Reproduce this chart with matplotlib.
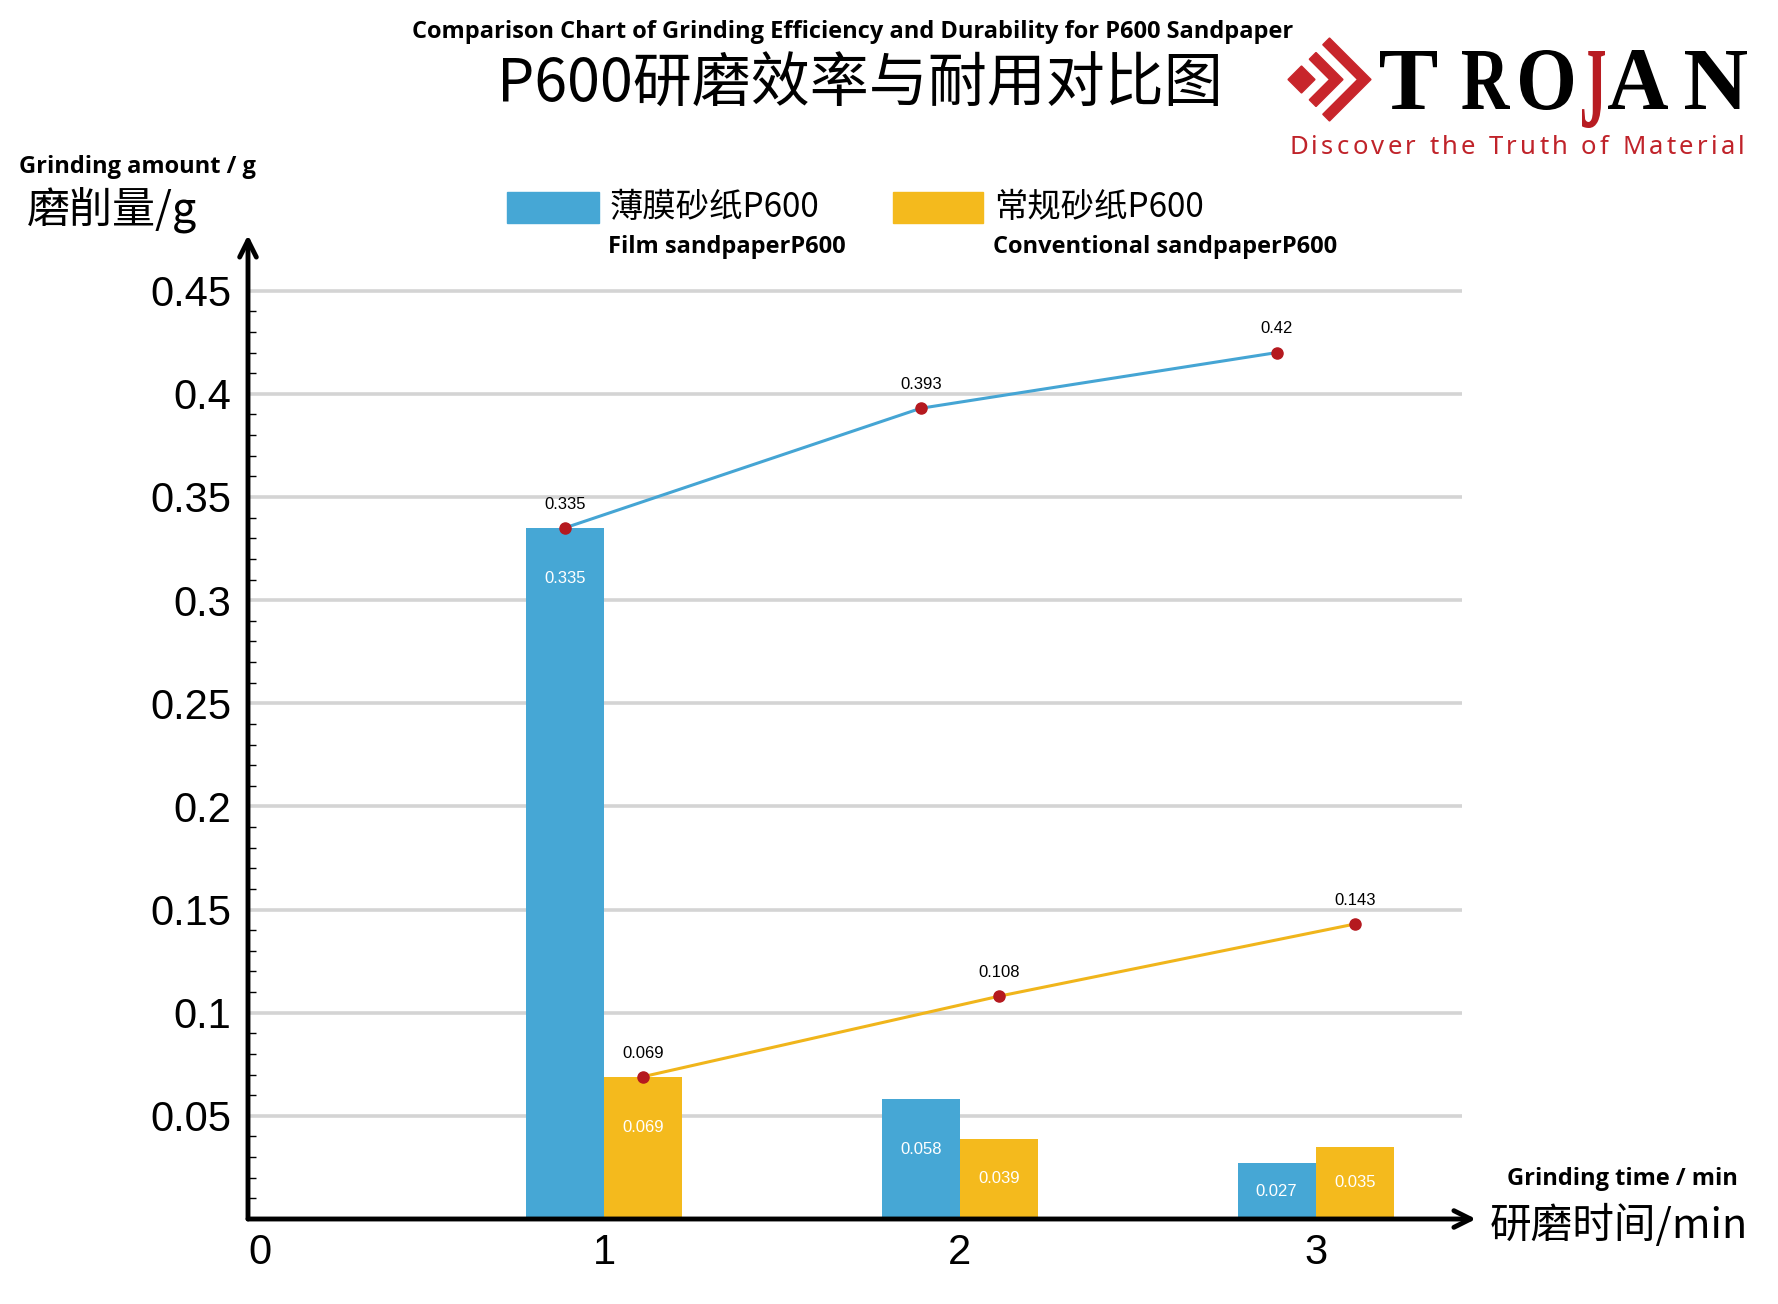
import matplotlib.pyplot as plt
import numpy as np
from matplotlib.patches import Rectangle, Polygon, PathPatch
from matplotlib.textpath import TextPath
from matplotlib.font_manager import FontProperties, findfont, get_font
from matplotlib.transforms import Affine2D
from matplotlib.ticker import FixedLocator

plt.rcParams['font.family'] = ['Liberation Sans', 'Noto Sans CJK SC', 'DejaVu Sans']

# Data
times = [1, 2, 3]
film_amount = [0.335, 0.058, 0.027]      # 薄膜砂纸P600, per minute
conv_amount = [0.069, 0.039, 0.035]      # 常规砂纸P600, per minute
film_total = [0.335, 0.393, 0.42]        # cumulative, line
conv_total = [0.069, 0.108, 0.143]
y_ticks = [0.05, 0.1, 0.15, 0.2, 0.25, 0.3, 0.35, 0.4, 0.45]
y_tick_labels = ['0.05', '0.1', '0.15', '0.2', '0.25', '0.3', '0.35', '0.4', '0.45']
x_ticks = [0, 1, 2, 3]
x_tick_labels = ['0', '1', '2', '3']

blue = '#46a7d5'
yellow = '#f4ba1d'
dot_red = '#b5191f'
logo_red = '#c8252b'
cjk = ['Noto Sans CJK SC', 'DejaVu Sans']

W, H = 1778, 1304
fig = plt.figure(figsize=(W / 100, H / 100), dpi=100)


def fx(px):
    return px / W


def fy(py):
    return 1 - py / H


ax = fig.add_axes([fx(248), fy(1219), fx(1476) - fx(248), fy(235) - fy(1219)])
ax.set_xlim(0, 3.45)
ax.set_ylim(0, 0.477)
for s in ax.spines.values():
    s.set_visible(False)

# grid
ax.hlines(y_ticks, 0, 3.41, color='#d4d4d4', lw=2.6, zorder=0)

# bars
bw = 0.22
xs = np.array(times)
ax.bar(xs - bw / 2, film_amount, width=bw, color=blue, zorder=2)
ax.bar(xs + bw / 2, conv_amount, width=bw, color=yellow, zorder=2)
for x, v in zip(xs - bw / 2, film_amount):
    ax.text(x, max(v - 0.0245, v / 2), f'{v}', color='white', ha='center', va='center', fontsize=12, zorder=5)
for x, v in zip(xs + bw / 2, conv_amount):
    ax.text(x, max(v - 0.0245, v / 2), f'{v}', color='white', ha='center', va='center', fontsize=12, zorder=5)

# cumulative lines
ax.plot(xs - bw / 2, film_total, color='#45a5d4', lw=2.2, zorder=3)
ax.plot(xs + bw / 2, conv_total, color='#f0b51b', lw=2.2, zorder=3)
ax.plot(xs - bw / 2, film_total, 'o', color=dot_red, ms=8, zorder=4)
ax.plot(xs + bw / 2, conv_total, 'o', color=dot_red, ms=8, zorder=4)
for x, v in zip(xs - bw / 2, film_total):
    ax.annotate(f'{v}', (x, v), xytext=(0, 17), textcoords='offset points', ha='center', va='center', fontsize=12)
for x, v in zip(xs + bw / 2, conv_total):
    ax.annotate(f'{v}', (x, v), xytext=(0, 17), textcoords='offset points', ha='center', va='center', fontsize=12)

# axes with arrows
arrow = dict(arrowstyle='->', lw=3.5, color='black', shrinkA=0, shrinkB=0, mutation_scale=30)
ax.annotate('', xy=(0, 1), xytext=(0, 0), xycoords='axes fraction', arrowprops=arrow, annotation_clip=False)
ax.annotate('', xy=(1, 0), xytext=(0, 0), xycoords='axes fraction', arrowprops=arrow, annotation_clip=False)

ax.set_yticks(y_ticks)
ax.set_yticklabels(y_tick_labels)
minor = [i / 100 for i in range(1, 45) if i % 5 != 0]
ax.yaxis.set_minor_locator(FixedLocator(minor))
ax.tick_params(axis='y', which='major', length=0, pad=12, labelsize=30)
ax.tick_params(axis='y', which='minor', direction='in', length=6, width=1)
ax.set_xticks(x_ticks)
ax.set_xticklabels(x_tick_labels)
ax.tick_params(axis='x', direction='in', length=12, width=1.5, pad=10, labelsize=30)
ax.get_xticklabels()[0].set_ha('left')

# titles and axis names
fig.text(fx(853), fy(32), 'Comparison Chart of Grinding Efficiency and Durability for P600 Sandpaper',
         ha='center', va='center', fontsize=17, fontweight='bold', family='Open Sans')
fig.text(fx(860), fy(85), 'P600研磨效率与耐用对比图', ha='center', va='center', fontsize=42.5,
         family=cjk, fontweight='light')
fig.text(fx(19), fy(167), 'Grinding amount / g', ha='left', va='center', fontsize=17,
         fontweight='bold', family='Open Sans')
fig.text(fx(27), fy(211), '磨削量/g', ha='left', va='center', fontsize=31, family=cjk, fontweight='light')
fig.text(fx(1622), fy(1179), 'Grinding time / min', ha='center', va='center', fontsize=17,
         fontweight='bold', family='Open Sans')
fig.text(fx(1490), fy(1225), '研磨时间/min', ha='left', va='center', fontsize=30, family=cjk, fontweight='light')

# legend
fig.add_artist(Rectangle((fx(507), fy(223)), fx(92), 31 / H, color=blue, transform=fig.transFigure))
fig.add_artist(Rectangle((fx(893), fy(223)), fx(90), 31 / H, color=yellow, transform=fig.transFigure))
fig.text(fx(610), fy(207), '薄膜砂纸P600', ha='left', va='center', fontsize=24, family=cjk, fontweight='light')
fig.text(fx(994), fy(207), '常规砂纸P600', ha='left', va='center', fontsize=24, family=cjk, fontweight='light')
fig.text(fx(608), fy(247), 'Film sandpaperP600', ha='left', va='center', fontsize=17,
         fontweight='bold', family='Open Sans')
fig.text(fx(993), fy(247), 'Conventional sandpaperP600', ha='left', va='center', fontsize=17,
         fontweight='bold', family='Open Sans')

# logo: chevrons
px2fig = Affine2D().scale(1 / W, 1 / H) + fig.transFigure


def poly(points, color):
    pts = [(x, H - y) for x, y in points]
    fig.add_artist(Polygon(pts, closed=True, color=color, transform=px2fig))


poly([(1301.5, 66), (1315, 79.5), (1301.5, 93), (1288, 79.5)], logo_red)
for tip, L in [(1343, 27), (1371, 41.5)]:
    t = 9.5
    q = t / np.sqrt(2)
    poly([(tip, 79.5), (tip - L, 79.5 - L), (tip - L - q, 79.5 - L + q),
          (tip - 2 * q, 79.5),
          (tip - L - q, 79.5 + L - q), (tip - L, 79.5 + L)], logo_red)

# logo: letters fitted into boxes
serif_bold = FontProperties(family='Liberation Serif', weight='bold')
letters = [('T', 1380, 1437, 51, 109, 'black'), ('R', 1462, 1510, 51, 109, 'black'),
           ('O', 1520, 1573, 50, 110, 'black'), ('J', 1582, 1605, 51, 128, '#b81c22'),
           ('A', 1608, 1668, 50, 109, 'black'), ('N', 1685, 1747, 51, 109, 'black')]
for ch, x0, x1, y0, y1, col in letters:
    tp = TextPath((0, 0), ch, size=100, prop=serif_bold)
    ext = tp.get_extents()
    tr = (Affine2D().translate(-ext.x0, -ext.y0)
          .scale((x1 - x0) / ext.width, (y1 - y0) / ext.height)
          .translate(x0, H - y1)) + px2fig
    fig.add_artist(PathPatch(tp, color=col, lw=0, transform=tr))

# tagline, letter-spaced to span 1289..1745 px
tagline = 'Discover the Truth of Material'
tag_prop = FontProperties(family='Noto Sans', weight='medium', size=18.5)
ft = get_font(findfont(tag_prop))
ft.set_size(18.5, 100)
advs = [ft.load_char(ord(c)).linearHoriAdvance / 65536 for c in tagline]
track = (1745 - 1289 - sum(advs)) / (len(tagline) - 1)
xpos = 1289
for c, a in zip(tagline, advs):
    fig.text(fx(xpos), fy(154), c, ha='left', va='baseline', fontproperties=tag_prop, color='#c0232a')
    xpos += a + track

fig.savefig('out.png', dpi=100, facecolor='w')
